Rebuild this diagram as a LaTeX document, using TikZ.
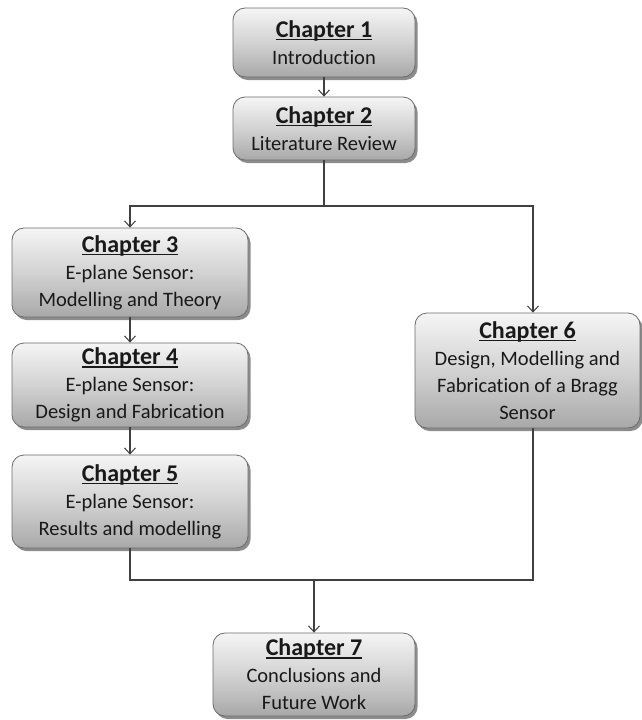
\documentclass[tikz,border=0pt]{standalone}
\usepackage{fontspec}
\setmainfont{Carlito}[Ligatures={NoCommon}]
\usetikzlibrary{arrows.meta,shadows}
\newcommand{\chtitle}[1]{{\fontsize{24}{27}\selectfont\bfseries\setbox0\hbox{#1}\rlap{\rule[-3pt]{\wd0}{1.4pt}}\box0}}
\begin{document}
\begin{tikzpicture}[x=1pt,y=-1pt,
  chbox/.style={draw=gray!85!black, line width=0.8pt, rounded corners=12pt,
    top color=gray!8, bottom color=gray!68, middle color=gray!35,
    drop shadow={shadow xshift=2.5pt, shadow yshift=-3pt, opacity=0.45, fill=black},
    align=center, inner sep=0pt, text=black!90,
    font=\fontsize{20.5}{27}\selectfont},
  conn/.style={draw=black!75, line width=1.1pt},
  arr/.style={conn, -{Straight Barb[length=6pt,width=11pt,line width=1pt]}}]
\useasboundingbox (0,0) rectangle (642,720);

\node[chbox, minimum width=182pt, minimum height=69pt] (ch1) at (324,42.5) {\chtitle{Chapter 1}\\Introduction};
\node[chbox, minimum width=182pt, minimum height=63pt] (ch2) at (324,128.5) {\chtitle{Chapter 2}\\Literature Review};
\node[chbox, minimum width=236pt, minimum height=89pt] (ch3) at (130,272.5) {\chtitle{Chapter 3}\\E-plane Sensor:\\Modelling and Theory};
\node[chbox, minimum width=236pt, minimum height=84pt] (ch4) at (130,385) {\chtitle{Chapter 4}\\E-plane Sensor:\\Design and Fabrication};
\node[chbox, minimum width=236pt, minimum height=93pt] (ch5) at (130,501.5) {\chtitle{Chapter 5}\\E-plane Sensor:\\Results and modelling};
\node[chbox, minimum width=225pt, minimum height=115pt] (ch6) at (527.5,370.5) {\chtitle{Chapter 6}\\Design, Modelling and\\Fabrication of a Bragg\\Sensor};
\node[chbox, minimum width=202pt, minimum height=83pt] (ch7) at (314,674.5) {\chtitle{Chapter 7}\\Conclusions and\\Future Work};

\coordinate (j1) at (324,206);
\coordinate (jr) at (533,206);
\coordinate (kl) at (130,580);
\coordinate (k) at (314,580);
\coordinate (kr) at (533,580);

\draw[arr] (ch1.south) -- (ch2.north);
\draw[arr] (ch2.south) -- (j1) -| (ch3.north);
\draw[arr] (j1) -- (jr) -- (jr |- ch6.north);
\draw[arr] (ch3.south) -- (ch4.north);
\draw[arr] (ch4.south) -- (ch5.north);
\draw[conn] (ch5.south) -- (kl) -- (kr) -- (kr |- ch6.south);
\draw[arr] (k) -- (ch7.north);
\end{tikzpicture}
\end{document}
